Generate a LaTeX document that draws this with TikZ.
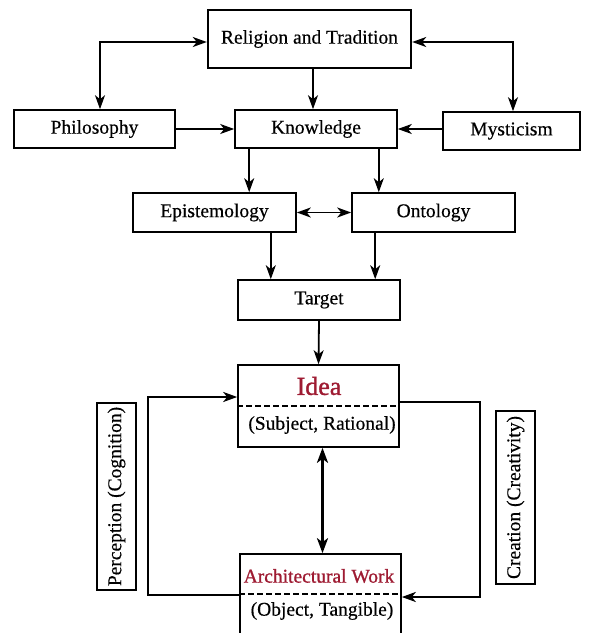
\documentclass[tikz,border=0pt]{standalone}
\usepackage{fontspec}
\setmainfont{Liberation Serif}[FakeBold=0.4]
\usetikzlibrary{arrows.meta,positioning}
\definecolor{darkred}{HTML}{9E1B32}
\begin{document}
\begin{tikzpicture}[x=1pt,y=-1pt,
  box/.style={draw, line width=1.6pt, inner sep=0pt, font=\fontsize{19.5}{21}\selectfont},
  txt/.style={inner sep=0pt, font=\fontsize{19.5}{21}\selectfont},
  redtxt/.style={inner sep=0pt, text=darkred},
  divider/.style={line width=1.2pt, dash pattern=on 6pt off 3pt},
  conn/.style={line width=1.8pt, -{Stealth[length=14pt,width=10pt,inset=4pt]}},
  conn2/.style={line width=1.8pt, {Stealth[length=14pt,width=10pt,inset=4pt]}-{Stealth[length=14pt,width=10pt,inset=4pt]}},
  loopline/.style={line width=2.4pt, -{Stealth[length=14pt,width=10pt,inset=4pt]}}
]
\useasboundingbox (0,0) rectangle (595,633);

\node[box, line width=2.4pt, minimum width=203pt, minimum height=58pt] (rel) at (309.5,39) {Religion and Tradition};
\node[box, minimum width=161pt, minimum height=38pt] (phi) at (94.5,129) {Philosophy};
\node[box, minimum width=162pt, minimum height=38pt] (kno) at (316,129) {Knowledge};
\node[box, minimum width=137pt, minimum height=38pt] (mys) at (511.5,131) {Mysticism};
\node[box, minimum width=163pt, minimum height=39pt] (epi) at (214.5,212.5) {Epistemology};
\node[box, minimum width=163pt, minimum height=39pt] (ont) at (433.5,212.5) {Ontology};
\node[box, minimum width=162pt, minimum height=40pt] (tar) at (319,300) {Target};

\node[box, minimum width=161pt, minimum height=82pt] (idea) at (318.5,406) {};
\draw[divider] (idea.west) -- (idea.east);
\node[redtxt, font=\fontsize{26}{28}\selectfont\addfontfeatures{FakeBold=1.2}] (ideat) at (319,386) {Idea};
\node[txt] (subj) at (322,425) {(Subject, Rational)};

\node[box, minimum width=161pt, minimum height=80pt] (arch) at (320.5,594) {};
\draw[divider] (arch.west) -- (arch.east);
\node[redtxt, font=\fontsize{19.5}{21}\selectfont\addfontfeatures{FakeBold=1}] (archt) at (319,576) {Architectural Work};
\node[txt] (obj) at (322,611) {(Object, Tangible)};

\node[box, rotate=90, minimum width=187pt, minimum height=39pt] (per) at (116.5,496.5) {Perception (Cognition)};
\node[box, rotate=90, minimum width=173pt, minimum height=39pt] (cre) at (515.5,497.5) {Creation (Creativity)};

% top connectors
\coordinate (c1) at (100,42);
\coordinate (c2) at (513,42);
\draw[conn2] (rel.west |- c1) -- (c1) -- (c1 |- phi.north);
\draw[conn2] (rel.east |- c2) -- (c2) -- (c2 |- mys.north);
\draw[conn] ([xshift=3.5pt]rel.south) -- ([xshift=3.5pt]rel.south |- kno.north);
\draw[conn] (phi.east) -- (kno.west);
\draw[conn] (kno.east -| mys.west) -- (kno.east);
\draw[conn] ([xshift=15pt]kno.south west) -- ([xshift=15pt]kno.south west |- epi.north);
\draw[conn] ([xshift=-19pt]kno.south east) -- ([xshift=-19pt]kno.south east |- ont.north);
\draw[conn2] (epi.east) -- (ont.west);
\draw[conn] ([xshift=-26pt]epi.south east) -- ([xshift=-26pt]epi.south east |- tar.north);
\draw[conn] ([xshift=24pt]ont.south west) -- ([xshift=24pt]ont.south west |- tar.north);
\draw[conn] (tar.south) -- (idea.north);
\draw[line width=3.5pt, {Stealth[length=15pt,width=11pt,inset=4pt]}-{Stealth[length=15pt,width=11pt,inset=4pt]}] ([xshift=4pt]idea.south) -- ([xshift=4pt]idea.south |- arch.north);

% loops
\coordinate (l1) at (148,397);
\coordinate (r1) at (480,402);
\coordinate (r2) at (480,597);
\draw[loopline] ([yshift=-1pt]arch.west) -| (l1) -- (l1 -| idea.west);
\draw[loopline] (idea.east |- r1) -- (r1) -- (r2) -- (r2 -| arch.east);
\end{tikzpicture}
\end{document}
